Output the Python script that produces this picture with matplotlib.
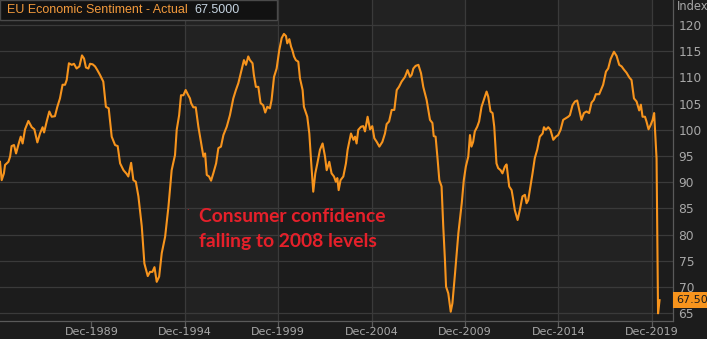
import matplotlib.pyplot as plt
from matplotlib.patches import Rectangle

# monthly-ish readings of the EU economic sentiment index (decimal year, value)
years = [
    1985.02, 1985.11, 1985.23, 1985.29, 1985.47, 1985.56, 1985.64, 1985.77, 1985.88, 1986.00,
    1986.13, 1986.23, 1986.36, 1986.54, 1986.72, 1986.86, 1987.02, 1987.16, 1987.30, 1987.38,
    1987.52, 1987.66, 1987.79, 1987.96, 1988.09, 1988.23, 1988.37, 1988.50, 1988.59, 1988.71,
    1988.86, 1988.98, 1989.12, 1989.27, 1989.41, 1989.52, 1989.62, 1989.75, 1989.84, 1989.98,
    1990.11, 1990.23, 1990.37, 1990.55, 1990.69, 1990.84, 1991.00,
    1991.18, 1991.32, 1991.45, 1991.63, 1991.80, 1991.89, 1992.04, 1992.16, 1992.29, 1992.43,
    1992.61, 1992.75, 1992.93, 1993.05, 1993.18, 1993.29, 1993.41, 1993.54, 1993.68, 1993.86,
    1994.04, 1994.21, 1994.39, 1994.48, 1994.61, 1994.71, 1994.84, 1994.96, 1995.07, 1995.19,
    1995.25, 1995.37, 1995.50, 1995.64, 1995.82, 1995.91, 1996.00, 1996.09, 1996.21, 1996.32,
    1996.44, 1996.59, 1996.71, 1996.85, 1996.98, 1997.16,
    1997.33, 1997.51, 1997.65, 1997.78, 1997.95, 1998.08, 1998.19, 1998.31, 1998.40, 1998.54,
    1998.61, 1998.72, 1998.85, 1998.97, 1999.11, 1999.22, 1999.33, 1999.47, 1999.56, 1999.69,
    1999.83, 1999.97, 2000.10, 2000.22, 2000.33, 2000.40, 2000.51, 2000.60, 2000.68, 2000.76,
    2000.86, 2000.99, 2001.08, 2001.22, 2001.29, 2001.47, 2001.58, 2001.67, 2001.79, 2001.90,
    2002.01, 2002.15, 2002.29, 2002.42, 2002.51, 2002.65, 2002.77, 2002.90, 2003.00, 2003.08,
    2003.15, 2003.25, 2003.40, 2003.54,
    2003.63, 2003.81, 2003.94, 2004.03, 2004.11, 2004.20, 2004.35, 2004.47, 2004.56, 2004.70,
    2004.83, 2004.95, 2005.06, 2005.19, 2005.33, 2005.49, 2005.63, 2005.72, 2005.85, 2005.99,
    2006.13, 2006.26, 2006.38, 2006.52, 2006.70, 2006.84, 2006.97, 2007.06, 2007.15, 2007.27,
    2007.42, 2007.56, 2007.68, 2007.86, 2008.04, 2008.17, 2008.24, 2008.34, 2008.45, 2008.54,
    2008.66, 2008.75, 2008.84, 2008.90, 2009.02, 2009.15, 2009.24, 2009.38, 2009.56, 2009.74,
    2009.85, 2009.96, 2010.09, 2010.18, 2010.26, 2010.35, 2010.44, 2010.57, 2010.67, 2010.80,
    2010.92, 2011.07, 2011.16, 2011.28, 2011.39, 2011.48, 2011.60, 2011.69, 2011.82, 2011.92,
    2012.05, 2012.14, 2012.28, 2012.41, 2012.50, 2012.58, 2012.73, 2012.85, 2012.99, 2013.12,
    2013.21, 2013.30, 2013.42, 2013.53, 2013.65, 2013.78, 2013.92, 2014.07, 2014.14, 2014.24,
    2014.37, 2014.49, 2014.64, 2014.78, 2014.90, 2015.03, 2015.17, 2015.31, 2015.44,
    2015.53, 2015.67, 2015.80, 2015.92, 2016.03, 2016.15, 2016.28, 2016.42, 2016.56, 2016.69,
    2016.81, 2016.92, 2017.10, 2017.23, 2017.31, 2017.46, 2017.58, 2017.71, 2017.89, 2018.03,
    2018.17, 2018.30, 2018.42, 2018.56, 2018.71, 2018.83, 2018.96, 2019.10, 2019.24, 2019.33,
    2019.42, 2019.55, 2019.63, 2019.74, 2019.85, 2019.96, 2020.04, 2020.17, 2020.25, 2020.33,
]
sentiment = [
    93.9, 90.4, 91.7, 93.3, 93.9, 94.9, 96.9, 97.1, 95.5, 97.1,
    98.7, 97.4, 100.1, 101.7, 100.5, 100.1, 97.6, 99.3, 100.5, 99.5,
    101.6, 103.5, 102.5, 102.6, 104.4, 106.0, 108.6, 108.6, 109.5, 112.7,
    112.4, 112.6, 111.7, 112.1, 114.2, 113.6, 111.9, 111.7, 112.6, 112.5,
    112.1, 111.4, 110.5, 109.2, 104.4, 104.1, 98.7,
    97.1, 96.9, 93.6, 92.3, 91.6, 91.1, 93.7, 90.4, 90.1, 87.3,
    81.6, 74.5, 72.1, 72.9, 72.9, 73.8, 71.0, 72.0, 76.5, 79.6,
    85.4, 92.3, 95.2, 100.0, 102.8, 106.6, 106.6, 107.6, 106.8, 106.0,
    105.1, 104.3, 104.3, 100.6, 96.8, 94.9, 95.5, 91.4, 91.1, 90.3,
    91.7, 93.6, 96.5, 96.8, 99.0, 100.6,
    102.8, 106.0, 107.6, 108.9, 111.4, 113.3, 112.4, 114.0, 113.3, 112.7,
    110.5, 108.2, 108.2, 105.1, 104.7, 103.3, 104.4, 104.1, 105.7, 110.1,
    111.7, 115.2, 117.5, 118.3, 117.9, 116.5, 117.3, 115.9, 115.1, 114.0,
    113.3, 113.0, 109.8, 107.6, 104.4, 102.5, 99.3, 94.3, 88.2, 91.7,
    93.6, 96.2, 97.4, 94.9, 92.3, 93.9, 91.7, 91.1, 90.1, 90.8,
    88.5, 90.4, 91.1, 93.6,
    96.2, 99.3, 98.1, 98.7, 97.4, 100.0, 100.6, 100.7, 99.7, 102.5,
    100.1, 100.7, 98.4, 97.7, 96.8, 97.7, 99.3, 101.1, 101.6, 103.8,
    103.8, 107.6, 108.2, 109.2, 110.1, 111.4, 110.1, 110.5, 111.7, 112.2,
    112.4, 110.8, 108.2, 105.7, 101.9, 101.3, 98.8, 98.7, 94.3, 90.4,
    89.2, 81.6, 75.2, 70.1, 68.8, 65.3, 66.9, 72.6, 80.3, 86.0,
    90.4, 93.0, 94.9, 99.0, 96.8, 97.7, 99.7, 100.6, 101.6, 104.4,
    105.7, 107.3, 106.3, 103.5, 103.2, 100.6, 93.6, 92.7, 92.3, 91.7,
    93.0, 93.4, 89.2, 88.5, 86.6, 84.7, 82.8, 84.7, 87.3, 87.6,
    86.0, 86.6, 89.2, 91.7, 94.6, 96.2, 98.7, 99.3, 100.5, 100.0,
    100.5, 100.0, 98.1, 98.7, 99.0, 100.0, 101.9, 102.2, 102.5,
    102.8, 104.7, 105.4, 105.6, 103.8, 101.9, 103.2, 103.5, 103.2, 105.2,
    105.7, 106.8, 106.8, 107.9, 108.6, 111.1, 111.7, 113.5, 114.9, 114.1,
    112.4, 112.1, 111.5, 110.9, 110.0, 109.5, 106.0, 105.4, 103.7, 104.8,
    102.5, 102.5, 101.6, 100.1, 100.9, 101.9, 103.2, 94.5, 65.0, 67.5,
]

tick_years = [1989, 1994, 1999, 2004, 2009, 2014, 2019]
tick_labels = ["Dec-" + str(y) for y in tick_years]
y_ticks = list(range(65, 121, 5))
last_value = 67.5

bg = "#1c1c1c"
band = "#222222"
grid_c = "#3a3a3a"
orange = "#f7941d"
grey = "#a8a8a8"
red = "#e5202a"

fig = plt.figure(figsize=(7.07, 3.39), dpi=100, facecolor=bg)
ax = fig.add_axes([0, 18 / 339, 673 / 707, 321 / 339])
ax.set_facecolor(bg)

# Dec ticks sit at the start of December
tick_pos = [y + 11 / 12 for y in tick_years]

# lighter bands every other 5 years
for a, b in zip(tick_pos[1::2], tick_pos[2::2]):
    ax.axvspan(a, b, color=band, lw=0, zorder=0)
for p in tick_pos[1:]:
    ax.axvline(p, color=grid_c, lw=0.9, zorder=1)
for v in y_ticks:
    ax.axhline(v, color=grid_c, lw=0.9, zorder=1)

ax.plot(years, sentiment, color=orange, lw=1.5, zorder=3)

ax.set_xlim(1985.02, 2021.05)
ax.set_ylim(63.53, 124.77)

ax.yaxis.tick_right()
ax.set_yticks(y_ticks)
ax.set_yticklabels([str(v) for v in y_ticks])
ax.tick_params(axis="y", length=0, pad=4, labelcolor=grey, labelsize=8.8)
ax.set_xticks(tick_pos)
ax.set_xticklabels(tick_labels)
ax.tick_params(axis="x", length=4, width=0.9, color="#5a5a5a", pad=0,
               labelcolor=grey, labelsize=8.0)

for s in ["top", "left"]:
    ax.spines[s].set_visible(False)
for s in ["right", "bottom"]:
    ax.spines[s].set_color("#5a5a5a")
    ax.spines[s].set_linewidth(0.9)

# last value tag on the right axis
ax.text(1.0045, last_value, "%.2f" % last_value, transform=ax.get_yaxis_transform(),
        ha="left", va="center", fontsize=8, color="#1c1c1c", clip_on=False,
        bbox=dict(boxstyle="square,pad=0.25", fc=orange, ec="none"), zorder=5)

fig.text(677 / 707, 1 - 7 / 339, "Index", color=grey, fontsize=8.3, va="center")

# title box top left
fig.add_artist(Rectangle((0, 1 - 20 / 339), 277 / 707, 20 / 339, transform=fig.transFigure,
                         fc="#121212", ec="#4a4a4a", lw=1, zorder=4))
fig.text(7 / 707, 1 - 10 / 339, "EU Economic Sentiment - Actual", color="#f39a3c",
         fontsize=9.0, family="Liberation Sans", va="center", zorder=5)
fig.text(194 / 707, 1 - 10 / 339, "67.5000", color="#c5d3e0",
         fontsize=9.0, family="Liberation Sans", va="center", zorder=5)

# annotation
fig.text(187 / 707, 1 - 211 / 339, "·", color=red, fontsize=6, ha="center", va="center")
fig.text(199 / 707, 1 - 216 / 339, "Consumer confidence", color=red, fontsize=13.9,
         family="Lato", weight="bold", va="center")
fig.text(199 / 707, 1 - 241 / 339, "falling to 2008 levels", color=red, fontsize=13.9,
         family="Lato", weight="bold", va="center")

fig.savefig("out.png", dpi=100, facecolor=bg)
